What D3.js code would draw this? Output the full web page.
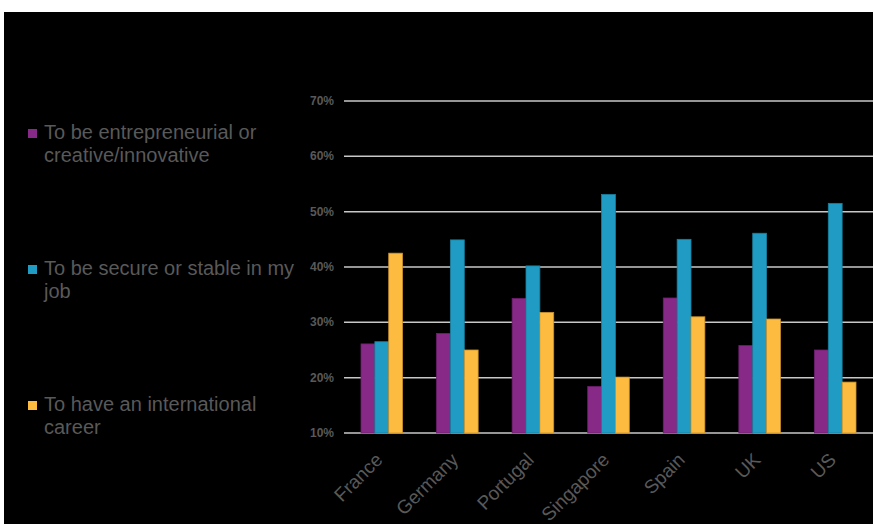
<!DOCTYPE html>
<html>
<head>
<meta charset="utf-8">
<script src="https://cdn.jsdelivr.net/npm/d3@7"></script>
<style>
  body { margin: 0; background: #fff; }
  svg { display: block; font-family: "Liberation Sans", Arial, sans-serif; }
</style>
</head>
<body>
<div id="chart"></div>
<script>
// data
var countries = ["France", "Germany", "Portugal", "Singapore", "Spain", "UK", "US"];
var seriesNames = ["To be entrepreneurial or creative/innovative",
                   "To be secure or stable in my job",
                   "To have an international career"];
var entrepreneurial = [26.1, 28.0, 34.3, 18.4, 34.4, 25.8, 25.0];
var secure = [26.5, 44.9, 40.2, 53.1, 45.0, 46.1, 51.5];
var international = [42.5, 25.0, 31.8, 20.1, 31.0, 30.6, 19.2];
var yTicks = [10, 20, 30, 40, 50, 60, 70];
var legendLines = [["To be entrepreneurial or", "creative/innovative"],
                   ["To be secure or stable in my", "job"],
                   ["To have an international", "career"]];

var colors = ["#872a87", "#1f9bc4", "#fdbc3f"];
var strokes = ["#6e1f6e", "#18809f", "#c9922e"];

var W = 873, H = 524;
var svg = d3.select("#chart").append("svg").attr("width", W).attr("height", H);

// black panel
svg.append("rect").attr("x", 4).attr("y", 12).attr("width", W - 4).attr("height", H - 12).attr("fill", "#000");

var x = d3.scaleBand().domain(countries).range([344, 873]).paddingInner(0.45).paddingOuter(0.225);
var xs = d3.scaleBand().domain([0, 1, 2]).range([0, x.bandwidth()]);
var y = d3.scaleLinear().domain([10, 70]).range([433, 101]);

// gridlines
svg.append("g").selectAll("line").data(yTicks).enter().append("line")
  .attr("x1", 344).attr("x2", 873)
  .attr("y1", function(d) { return y(d); }).attr("y2", function(d) { return y(d); })
  .attr("stroke", "#c8c8c8").attr("stroke-width", 1.5);

// y tick labels
svg.append("g").selectAll("text").data(yTicks).enter().append("text")
  .attr("x", 334).attr("y", function(d) { return y(d) + 4; })
  .attr("text-anchor", "end").attr("font-size", 12).attr("font-weight", "bold")
  .attr("fill", "#595959")
  .text(function(d) { return d + "%"; });

var allSeries = [entrepreneurial, secure, international];

allSeries.forEach(function(vals, s) {
  svg.append("g").selectAll("rect").data(vals).enter().append("rect")
    .attr("x", function(d, i) { return x(countries[i]) + xs(s); })
    .attr("y", function(d) { return y(d); })
    .attr("width", xs.bandwidth())
    .attr("height", function(d) { return y(10) - y(d); })
    .attr("fill", colors[s])
    .attr("stroke", strokes[s]).attr("stroke-width", 0.8);
});

// x labels rotated
svg.append("g").selectAll("text").data(countries).enter().append("text")
  .attr("transform", function(d) {
    return "translate(" + (x(d) + x.bandwidth() / 2 + 2) + ",461) rotate(-45)";
  })
  .attr("text-anchor", "end").attr("font-size", 19)
  .attr("fill", "#595959")
  .text(function(d) { return d; });

// legend
var legendY = [139, 275, 411];
legendLines.forEach(function(lines, i) {
  var g = svg.append("g");
  g.append("rect").attr("x", 28).attr("y", legendY[i] - 10).attr("width", 9).attr("height", 9)
    .attr("fill", colors[i]);
  g.selectAll("text").data(lines).enter().append("text")
    .attr("x", 44).attr("y", function(d, j) { return legendY[i] + j * 23; })
    .attr("font-size", 20).attr("fill", "#595959")
    .text(function(d) { return d; });
});
</script>
</body>
</html>
